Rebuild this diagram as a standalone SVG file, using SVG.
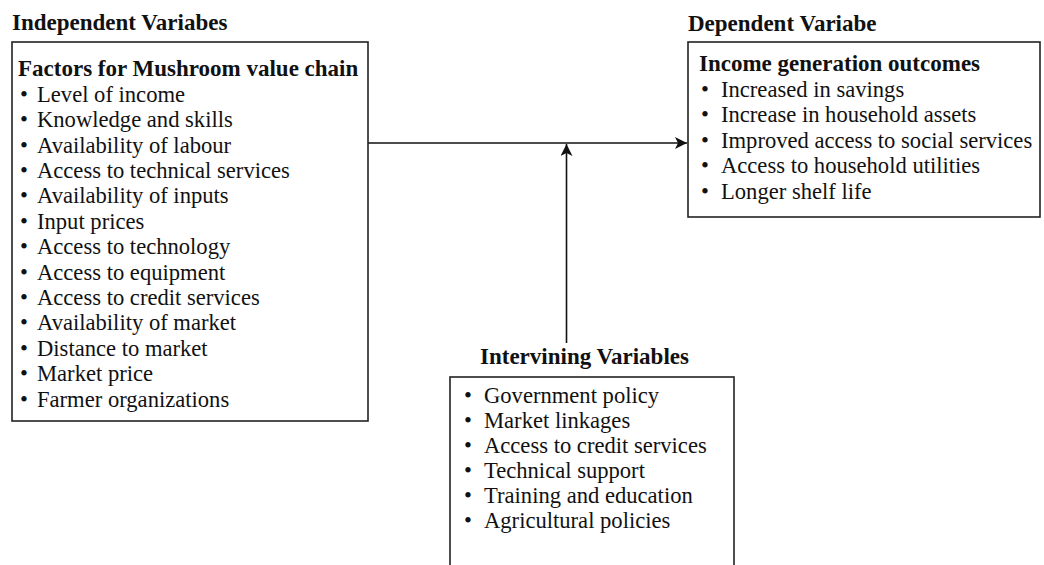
<svg xmlns="http://www.w3.org/2000/svg" width="1044" height="565" viewBox="0 0 1044 565">
<style>
text{font-family:"Liberation Serif","Times New Roman",serif;font-size:22.6px;fill:#111}
.b{font-weight:bold;font-size:23px}
.box{fill:#fff;stroke:#222;stroke-width:1.6}
.conn{fill:none;stroke:#111;stroke-width:1.6}
</style>
<defs>
<marker id="arr" markerUnits="userSpaceOnUse" markerWidth="14" markerHeight="14" refX="12" refY="6" orient="auto">
<path d="M0,0 L12,6 L0,12 L3,6 Z" fill="#111"/>
</marker>
</defs>
<rect width="1044" height="565" fill="#fff"/>
<g id="connectors">
<line class="conn" x1="368" y1="143" x2="687" y2="143" marker-end="url(#arr)"/>
<line class="conn" x1="566.5" y1="343" x2="566.5" y2="144" marker-end="url(#arr)"/>
</g>
<g id="independent">
<text class="b" x="12" y="30">Independent Variabes</text>
<rect class="box" x="12" y="42" width="356" height="379"/>
<text class="b" x="18" y="76">Factors for Mushroom value chain</text>
<g>
<text x="20" y="101.7">•</text><text x="37" y="101.7">Level of income</text>
<text x="20" y="127.1">•</text><text x="37" y="127.1">Knowledge and skills</text>
<text x="20" y="152.5">•</text><text x="37" y="152.5">Availability of labour</text>
<text x="20" y="177.9">•</text><text x="37" y="177.9">Access to technical services</text>
<text x="20" y="203.3">•</text><text x="37" y="203.3">Availability of inputs</text>
<text x="20" y="228.7">•</text><text x="37" y="228.7">Input prices</text>
<text x="20" y="254.1">•</text><text x="37" y="254.1">Access to technology</text>
<text x="20" y="279.5">•</text><text x="37" y="279.5">Access to equipment</text>
<text x="20" y="304.9">•</text><text x="37" y="304.9">Access to credit services</text>
<text x="20" y="330.3">•</text><text x="37" y="330.3">Availability of market</text>
<text x="20" y="355.7">•</text><text x="37" y="355.7">Distance to market</text>
<text x="20" y="381.1">•</text><text x="37" y="381.1">Market price</text>
<text x="20" y="406.5">•</text><text x="37" y="406.5">Farmer organizations</text>
</g>
</g>
<g id="dependent">
<text class="b" x="688" y="31">Dependent Variabe</text>
<rect class="box" x="688" y="42" width="352" height="175"/>
<text class="b" x="699" y="71">Income generation outcomes</text>
<text x="701" y="97">•</text><text x="721" y="97">Increased in savings</text>
<text x="701" y="122.4">•</text><text x="721" y="122.4">Increase in household assets</text>
<text x="701" y="147.8">•</text><text x="721" y="147.8">Improved access to social services</text>
<text x="701" y="173.2">•</text><text x="721" y="173.2">Access to household utilities</text>
<text x="701" y="198.6">•</text><text x="721" y="198.6">Longer shelf life</text>
</g>
<g id="intervening">
<text class="b" x="480" y="364">Intervining Variables</text>
<rect class="box" x="450" y="377" width="284" height="200"/>
<text x="464" y="403">•</text><text x="484" y="403">Government policy</text>
<text x="464" y="428">•</text><text x="484" y="428">Market linkages</text>
<text x="464" y="453">•</text><text x="484" y="453">Access to credit services</text>
<text x="464" y="478">•</text><text x="484" y="478">Technical support</text>
<text x="464" y="503">•</text><text x="484" y="503">Training and education</text>
<text x="464" y="528">•</text><text x="484" y="528">Agricultural policies</text>
</g>
</svg>
